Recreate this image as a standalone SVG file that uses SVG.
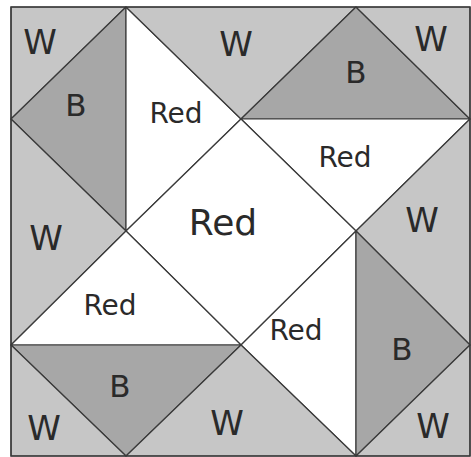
<svg xmlns="http://www.w3.org/2000/svg" width="471" height="457" viewBox="0 0 471 457">
<style>
.w{fill:#c6c6c6;stroke:#3a3a3a;stroke-width:1.2;stroke-linejoin:round}
.b{fill:#a7a7a7;stroke:#3a3a3a;stroke-width:1.2;stroke-linejoin:round}
.r{fill:#ffffff;stroke:#3a3a3a;stroke-width:1.2;stroke-linejoin:round}
text{font-family:"DejaVu Sans","Liberation Sans",sans-serif;fill:#2a2a2a;text-anchor:middle;dominant-baseline:central}
.lw{font-size:34px}
.lb{font-size:31px}
.lr{font-size:28px}
</style>
<rect x="0" y="0" width="471" height="457" fill="#ffffff"/>
<g id="w-tl"><polygon class="w" points="11,7 126,7 11,119"/><text class="lw" x="40" y="42">W</text></g>
<g id="b-tl"><polygon class="b" points="126,7 11,119 126,231"/><text class="lb" x="76" y="105">B</text></g>
<g id="red-tl"><polygon class="r" points="126,7 241,119 126,231"/><text class="lr" x="176" y="113">Red</text></g>
<g id="w-top"><polygon class="w" points="126,7 356,7 241,119"/><text class="lw" x="236" y="44">W</text></g>
<g id="b-tr"><polygon class="b" points="241,119 356,7 470,119"/><text class="lb" x="356" y="72">B</text></g>
<g id="w-tr"><polygon class="w" points="356,7 470,7 470,119"/><text class="lw" x="431" y="39">W</text></g>
<g id="red-tr"><polygon class="r" points="241,119 470,119 356,231"/><text class="lr" x="345" y="157">Red</text></g>
<g id="w-left"><polygon class="w" points="11,119 126,231 11,345"/><text class="lw" x="46" y="238">W</text></g>
<g id="red-center"><polygon class="r" points="241,119 356,231 241,345 126,231"/><text x="223" y="222" font-size="36">Red</text></g>
<g id="w-right"><polygon class="w" points="470,119 356,231 470,345"/><text class="lw" x="422" y="220">W</text></g>
<g id="red-bl"><polygon class="r" points="11,345 126,231 241,345"/><text class="lr" x="110" y="305">Red</text></g>
<g id="red-br"><polygon class="r" points="356,231 356,456 241,345"/><text class="lr" x="296" y="330">Red</text></g>
<g id="b-br"><polygon class="b" points="356,231 470,345 356,456"/><text class="lb" x="402" y="349">B</text></g>
<g id="b-bl"><polygon class="b" points="11,345 241,345 126,456"/><text class="lb" x="120" y="386">B</text></g>
<g id="w-bl"><polygon class="w" points="11,345 126,456 11,456"/><text class="lw" x="44" y="428">W</text></g>
<g id="w-bottom"><polygon class="w" points="241,345 356,456 126,456"/><text class="lw" x="227" y="423">W</text></g>
<g id="w-br"><polygon class="w" points="470,345 470,456 356,456"/><text class="lw" x="433" y="426">W</text></g>
<g id="connectors"><rect x="11" y="7" width="459" height="449" fill="none" stroke="#3a3a3a" stroke-width="1.4"/></g>
</svg>
